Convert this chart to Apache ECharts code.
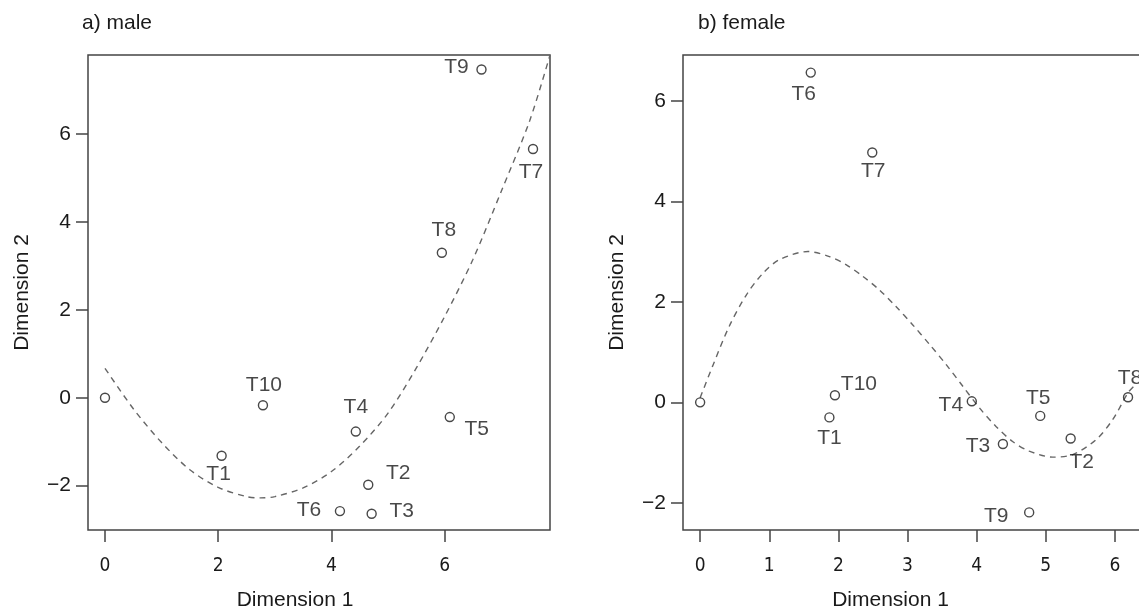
<!DOCTYPE html>
<html>
<head>
<meta charset="utf-8">
<title>MDS dimensions</title>
<script src="https://cdn.jsdelivr.net/npm/echarts@6/dist/echarts.min.js"></script>
<style>
  html, body { margin: 0; padding: 0; background: #fff; }
  #chart { width: 1139px; height: 613px; }
</style>
</head>
<body>
<div id="chart"></div>
<script>
// point names (first point is the unlabeled origin)
const maleNames = ['', 'T1', 'T2', 'T3', 'T4', 'T5', 'T6', 'T7', 'T8', 'T9', 'T10']
const maleDim1 = [0, 2.06, 4.65, 4.71, 4.43, 6.09, 4.15, 7.56, 5.95, 6.65, 2.79]
const maleDim2 = [0, -1.32, -1.98, -2.64, -0.77, -0.44, -2.58, 5.66, 3.30, 7.47, -0.17]

const femaleNames = ['', 'T1', 'T2', 'T3', 'T4', 'T5', 'T6', 'T7', 'T8', 'T9', 'T10']
const femaleDim1 = [0, 1.87, 5.36, 4.38, 3.93, 4.92, 1.60, 2.49, 6.19, 4.76, 1.95]
const femaleDim2 = [0, -0.30, -0.72, -0.83, 0.02, -0.27, 6.56, 4.97, 0.10, -2.19, 0.14]

// dashed fitted curves
const maleCurveX = [0, 0.5, 1, 1.5, 2, 2.5, 2.75, 3, 3.5, 4, 4.5, 5, 5.5, 6, 6.5, 7, 7.5, 7.86]
const maleCurveY = [0.67, -0.25, -1.02, -1.64, -2.04, -2.25, -2.28, -2.25, -2.05, -1.68, -1.10, -0.35, 0.68, 1.85, 3.15, 4.70, 6.30, 7.80]

const femaleCurveX = [0, 0.18, 0.42, 0.67, 0.91, 1.15, 1.56, 1.87, 2.11, 2.35, 2.59, 2.83, 3.07, 3.32, 3.56, 3.80, 4.04, 4.28, 4.52, 4.76, 5.10, 5.39, 5.73, 5.97, 6.19, 6.28]
const femaleCurveY = [0.09, 0.72, 1.51, 2.14, 2.57, 2.84, 3.00, 2.90, 2.74, 2.51, 2.24, 1.91, 1.55, 1.15, 0.75, 0.32, -0.11, -0.48, -0.78, -0.97, -1.09, -1.04, -0.74, -0.34, 0.19, 0.33]

const yTicks = [-2, 0, 2, 4, 6]
const maleXTicks = [0, 2, 4, 6]
const femaleXTicks = [0, 1, 2, 3, 4, 5, 6]

// label placement (text centre relative to the point, px)
const maleLabelOffset = {
  T1: [-3, 18], T2: [30, -12], T3: [30, -3], T4: [0, -24], T5: [27, 12],
  T6: [-31, -1], T7: [-2, 23], T8: [2, -23], T9: [-25, -2], T10: [1, -20]
}
const femaleLabelOffset = {
  T1: [0, 21], T2: [11, 24], T3: [-25, 2], T4: [-21, 4], T5: [-2, -18],
  T6: [-7, 22], T7: [1, 19], T8: [2, -19], T9: [-33, 4], T10: [24, -11]
}

const textFont = "'Liberation Sans', Arial, sans-serif"
const narrowFont = "'Liberation Sans Narrow', 'DejaVu Sans Condensed', 'Roboto Condensed', sans-serif"
const ink = '#1a1a1a'
const frame = '#444'

function minusFmt(v) {
  return v < 0 ? '\u2212' + Math.abs(v) : String(v)
}

function pointSeries(idx, names, xs, ys, offsets) {
  return {
    type: 'scatter',
    xAxisIndex: idx,
    yAxisIndex: idx,
    symbol: 'circle',
    symbolSize: 9,
    itemStyle: { color: 'rgba(255,255,255,0)', borderColor: ink, borderWidth: 1.4 },
    label: {
      show: true,
      position: 'inside',
      formatter: p => p.name,
      fontFamily: textFont,
      fontSize: 21,
      color: ink,
      textBorderWidth: 0
    },
    data: names.map((n, i) => ({
      name: n,
      value: [xs[i], ys[i]],
      label: { offset: offsets[n] || [0, 0] }
    })),
    z: 3
  }
}

function curveSeries(idx, xs, ys) {
  return {
    type: 'line',
    xAxisIndex: idx,
    yAxisIndex: idx,
    showSymbol: false,
    smooth: 0.3,
    clip: true,
    lineStyle: { color: '#666', width: 1.4, type: [6, 5] },
    data: xs.map((x, i) => [x, ys[i]]),
    z: 2
  }
}

function xAxisCfg(idx, min, max, ticks) {
  return {
    gridIndex: idx,
    type: 'value',
    min: min,
    max: max,
    axisLine: { show: false, onZero: false },
    axisTick: { show: true, customValues: ticks, length: 12, lineStyle: { color: frame, width: 1.5 } },
    axisLabel: {
      customValues: ticks,
      margin: 27,
      fontFamily: narrowFont,
      fontSize: 19,
      color: ink,
      formatter: minusFmt
    },
    splitLine: { show: false },
    name: 'Dimension 1',
    nameLocation: 'middle',
    nameGap: 60,
    nameTextStyle: { fontFamily: textFont, fontSize: 21, color: ink, padding: [0, 48, 0, 0] }
  }
}

function yAxisCfg(idx, min, max) {
  return {
    gridIndex: idx,
    type: 'value',
    min: min,
    max: max,
    axisLine: { show: false, onZero: false },
    axisTick: { show: true, customValues: yTicks, length: 12, lineStyle: { color: frame, width: 1.5 } },
    axisLabel: {
      customValues: yTicks,
      margin: 17,
      fontFamily: textFont,
      fontSize: 21,
      color: ink,
      formatter: minusFmt
    },
    splitLine: { show: false },
    name: 'Dimension 2',
    nameLocation: 'middle',
    nameGap: 55,
    nameTextStyle: { fontFamily: textFont, fontSize: 21, color: ink }
  }
}

const chart = echarts.init(document.getElementById('chart'), null, { renderer: 'canvas' })

chart.setOption({
  backgroundColor: '#fff',
  animation: false,
  title: [
    { text: 'a) male', left: 77, top: 8, textStyle: { fontFamily: textFont, fontSize: 21, fontWeight: 'normal', color: ink } },
    { text: 'b) female', left: 693, top: 8, textStyle: { fontFamily: textFont, fontSize: 21, fontWeight: 'normal', color: ink } }
  ],
  grid: [
    { left: 88, top: 55, width: 462, height: 475, show: true, borderColor: frame, borderWidth: 1.5, outerBoundsMode: 'none' },
    { left: 683, top: 55, width: 463, height: 475, show: true, borderColor: frame, borderWidth: 1.5, outerBoundsMode: 'none' }
  ],
  xAxis: [
    xAxisCfg(0, -0.30, 7.86, maleXTicks),
    xAxisCfg(1, -0.248, 6.45, femaleXTicks)
  ],
  yAxis: [
    yAxisCfg(0, -3.01, 7.80),
    yAxisCfg(1, -2.54, 6.91)
  ],
  series: [
    curveSeries(0, maleCurveX, maleCurveY),
    pointSeries(0, maleNames, maleDim1, maleDim2, maleLabelOffset),
    curveSeries(1, femaleCurveX, femaleCurveY),
    pointSeries(1, femaleNames, femaleDim1, femaleDim2, femaleLabelOffset)
  ]
})
</script>
</body>
</html>
